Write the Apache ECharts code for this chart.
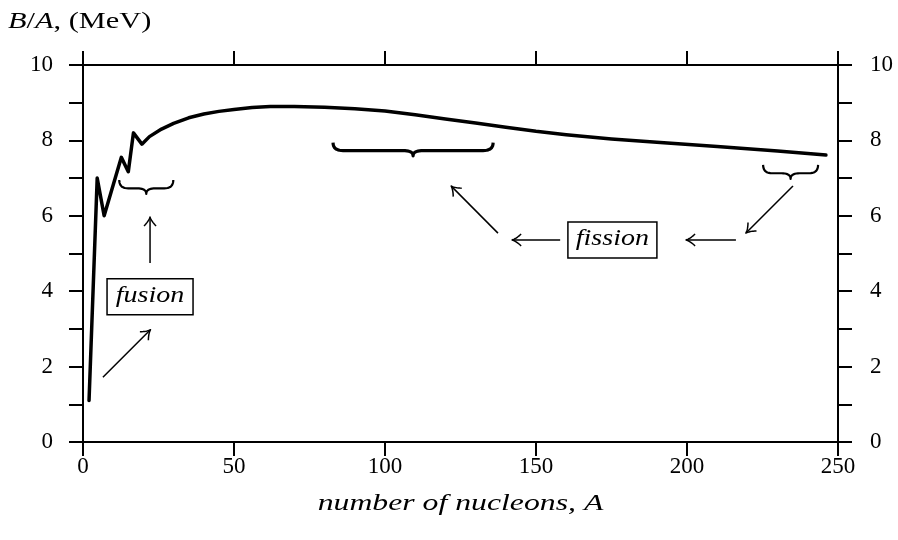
<!DOCTYPE html>
<html><head><meta charset="utf-8">
<script src="https://cdn.jsdelivr.net/npm/echarts@6.0.0/dist/echarts.min.js"></script>
<style>html,body{margin:0;padding:0;background:#fff}#c{width:898px;height:540px}</style>
</head><body><div id="c"></div>
<script>
// Binding energy per nucleon
const massNumbers = [2, 4.7, 7, 12.7, 15, 16.7, 19.5, 22, 26, 30, 35, 40, 45, 50, 56, 62, 70, 80, 90, 100, 110, 120, 130, 140, 150, 160, 175, 190, 210, 230, 246];
const bindingPerNucleon = [1.1, 7.0, 6.0, 7.55, 7.17, 8.2, 7.9, 8.1, 8.3, 8.45, 8.6, 8.7, 8.77, 8.82, 8.87, 8.9, 8.9, 8.88, 8.84, 8.78, 8.68, 8.57, 8.46, 8.35, 8.24, 8.15, 8.04, 7.95, 7.84, 7.72, 7.61];
const xTickValues = [0, 50, 100, 150, 200, 250];
const yTickValues = [0, 2, 4, 6, 8, 10];
const xTitle = 'number of nucleons, A';
const yTitleParts = ['B', 'A', ', (MeV)'];

const FONT = 'Liberation Serif';
const chart = echarts.init(document.getElementById('c'), null, {renderer: 'canvas'});
const seriesData = massNumbers.map((a, i) => [a, bindingPerNucleon[i]]);
const axisLine = {show: true, onZero: false, lineStyle: {color: '#000', width: 2}};
const tick = {show: true, inside: false, length: 14, lineStyle: {color: '#000', width: 2}};
const lbl = {color: '#000', fontFamily: FONT, fontSize: 23};

chart.setOption({
  animation: false,
  backgroundColor: '#fff',
  grid: {left: 83, right: 60, top: 65, bottom: 98, containLabel: false},
  xAxis: [
    {type: 'value', position: 'bottom', min: 0, max: 250, interval: 50,
     axisLine, axisTick: tick, splitLine: {show: false},
     axisLabel: Object.assign({margin: 13, formatter: v => xTickValues.includes(v) ? String(v) : ''}, lbl)},
    {type: 'value', position: 'top', min: 0, max: 250, interval: 50,
     axisLine, axisTick: tick, splitLine: {show: false}, axisLabel: {show: false}}
  ],
  yAxis: [
    {type: 'value', position: 'left', min: 0, max: 10, interval: 1,
     axisLine, axisTick: tick, splitLine: {show: false},
     axisLabel: Object.assign({margin: 30, formatter: v => yTickValues.includes(v) ? String(v) : ''}, lbl)},
    {type: 'value', position: 'right', min: 0, max: 10, interval: 1,
     axisLine, axisTick: tick, splitLine: {show: false},
     axisLabel: Object.assign({margin: 32, formatter: v => yTickValues.includes(v) ? String(v) : ''}, lbl)}
  ],
  series: [{
    type: 'line', xAxisIndex: 0, yAxisIndex: 0, data: seriesData,
    showSymbol: false, symbol: 'none', smooth: false,
    lineStyle: {color: '#000', width: 3.5, join: 'round', cap: 'round'}
  }]
});

// Annotations, in data coordinates
const annot = {
  arrows: [
    [[22.2, 4.75], [22.2, 5.97]],
    [[6.6, 1.72], [22.35, 2.98]],
    [[137.4, 5.54], [121.9, 6.79]],
    [[158, 5.36], [142.1, 5.36]],
    [[216.2, 5.36], [199.7, 5.36]],
    [[235.1, 6.79], [219.5, 5.54]]
  ],
  braces: [
    {a1: 12.0, a2: 29.9, top: 6.95, tip: 6.58, w: 2.2, r: 9},
    {a1: 82.8, a2: 135.8, top: 7.94, tip: 7.59, w: 3.2, r: 10},
    {a1: 225.2, a2: 243.4, top: 7.35, tip: 6.98, w: 2.2, r: 9}
  ],
  boxes: [
    {text: 'fusion', a: 22.2, b: 3.85, w: 86, h: 36},
    {text: 'fission', a: 175.3, b: 5.36, w: 89, h: 36}
  ]
};
const P = (a, b) => chart.convertToPixel({xAxisIndex: 0, yAxisIndex: 0}, [a, b]);
function quad(p0, c, p1, n, out) {
  for (let i = (out.length ? 1 : 0); i <= n; i++) {
    const t = i / n, u = 1 - t;
    out.push([u * u * p0[0] + 2 * u * t * c[0] + t * t * p1[0], u * u * p0[1] + 2 * u * t * c[1] + t * t * p1[1]]);
  }
  return out;
}
const g = [];
annot.arrows.forEach(([s, e]) => {
  const p0 = P(s[0], s[1]), p1 = P(e[0], e[1]);
  const dx = p1[0] - p0[0], dy = p1[1] - p0[1], len = Math.hypot(dx, dy);
  const d = [dx / len, dy / len], n = [-d[1], d[0]];
  const L = 9, W = 6;
  const pt = (k, m) => [p1[0] - k * L * d[0] + m * W * n[0], p1[1] - k * L * d[1] + m * W * n[1]];
  g.push({type: 'line', shape: {x1: p0[0], y1: p0[1], x2: p1[0] - 0.5 * d[0], y2: p1[1] - 0.5 * d[1]}, style: {stroke: '#000', lineWidth: 1.5}});
  const pts = [];
  quad(pt(1, 1), pt(0.45, 0.2), p1, 8, pts);
  quad(p1, pt(0.45, -0.2), pt(1, -1), 8, pts);
  g.push({type: 'polyline', shape: {points: pts}, style: {stroke: '#000', fill: null, lineWidth: 1.5, lineJoin: 'round'}});
});
annot.braces.forEach(br => {
  const l = P(br.a1, br.top), r = P(br.a2, br.top), t = P((br.a1 + br.a2) / 2, br.tip);
  const x1 = l[0], x2 = r[0], yT = l[1], yTip = t[1], xm = t[0];
  const yF = yT + (yTip - yT) * 0.6, rr = br.r;
  const pts = [];
  quad([x1, yT], [x1, yF], [x1 + rr, yF], 10, pts);
  pts.push([xm - rr, yF]);
  quad([xm - rr, yF], [xm, yF], [xm, yTip], 10, pts);
  quad([xm, yTip], [xm, yF], [xm + rr, yF], 10, pts);
  pts.push([x2 - rr, yF]);
  quad([x2 - rr, yF], [x2, yF], [x2, yT], 10, pts);
  g.push({type: 'polyline', shape: {points: pts}, style: {stroke: '#000', fill: null, lineWidth: br.w, lineJoin: 'round'}});
});
annot.boxes.forEach(bx => {
  const c = P(bx.a, bx.b);
  g.push({type: 'rect', shape: {x: c[0] - bx.w / 2, y: c[1] - bx.h / 2, width: bx.w, height: bx.h},
          style: {stroke: '#000', fill: '#fff', lineWidth: 1.5}});
  g.push({type: 'text', x: c[0], y: c[1] - 1, scaleX: 1.22, style: {text: bx.text, fontFamily: FONT, fontStyle: 'italic', fontSize: 23,
          fill: '#000', align: 'center', verticalAlign: 'middle'}});
});
// axis titles
const xMid = P(125, 0)[0];
g.push({type: 'text', x: xMid, y: 504, scaleX: 1.38, style: {text: xTitle, fontFamily: FONT, fontStyle: 'italic', fontSize: 23,
        fill: '#000', align: 'center', verticalAlign: 'middle'}});
g.push({type: 'text', x: 8, y: 22, scaleX: 1.32, style: {
  text: '{i|' + yTitleParts[0] + '}/{i|' + yTitleParts[1] + '}' + yTitleParts[2], fontFamily: FONT, fontSize: 23, fill: '#000',
  verticalAlign: 'middle', align: 'left',
  rich: {i: {fontFamily: FONT, fontStyle: 'italic', fontSize: 23, fill: '#000'}}}});
chart.setOption({graphic: g});
</script></body></html>
